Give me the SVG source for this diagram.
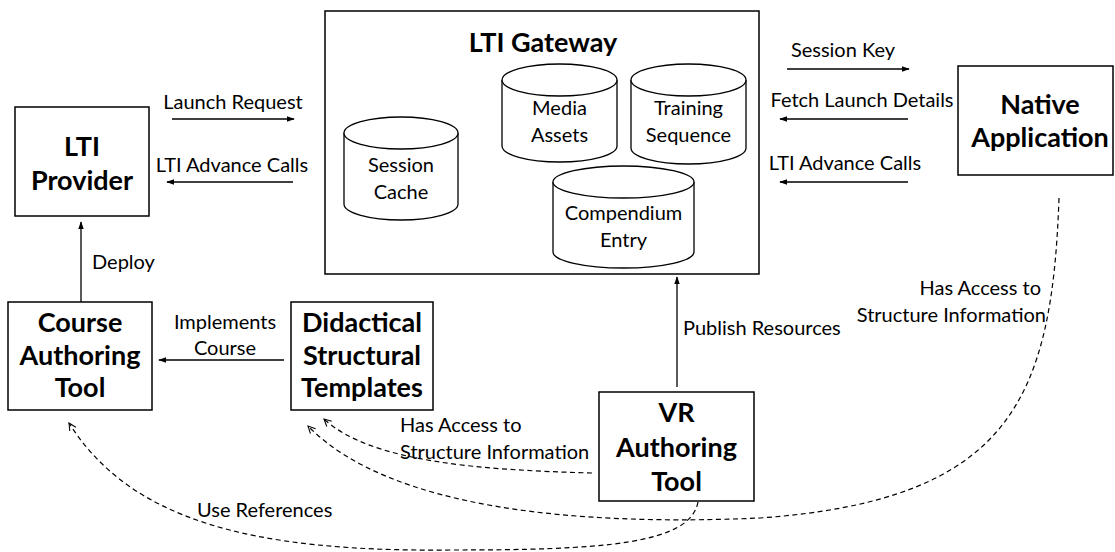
<svg xmlns="http://www.w3.org/2000/svg" width="1115" height="552" viewBox="0 0 1115 552">
<style>
.box{fill:#fff;stroke:#000;stroke-width:1.5}
.cyl{fill:#fff;stroke:#000;stroke-width:1.3}
.t{font-family:Lato,"Open Sans",sans-serif;font-size:20px;fill:#000}
.b{font-family:Lato,"Open Sans",sans-serif;font-size:27px;font-weight:bold;fill:#000;text-anchor:middle}
.m{text-anchor:middle}
.e{text-anchor:end}
.ln{fill:none;stroke:#000;stroke-width:1.3;marker-end:url(#ah)}
.dl{fill:none;stroke:#000;stroke-width:1.2;stroke-dasharray:5,3.5;marker-end:url(#oh)}
</style>
<defs>
<marker id="ah" viewBox="0 0 10 10" refX="9" refY="5" markerWidth="8" markerHeight="8" markerUnits="userSpaceOnUse" orient="auto">
<path d="M0,1.5 L10,5 L0,8.5 Z" fill="#000"/>
</marker>
<marker id="oh" viewBox="0 0 10 10" refX="9" refY="5" markerWidth="9" markerHeight="9" markerUnits="userSpaceOnUse" orient="auto">
<path d="M1,1 L9,5 L1,9" fill="none" stroke="#000" stroke-width="1.2"/>
</marker>
</defs>
<rect width="1115" height="552" fill="#fff"/>

<g id="lti-gateway">
<rect class="box" x="325" y="11" width="434" height="263"/>
<text class="b" x="543" y="52">LTI Gateway</text>
</g>
<g id="session-cache">
<path class="cyl" d="M344,133 V204 A57,16 0 0 0 458,204 V133"/>
<ellipse class="cyl" cx="401" cy="133" rx="57" ry="16"/>
<text class="t m" x="401" y="172">Session</text>
<text class="t m" x="401" y="199">Cache</text>
</g>
<g id="media-assets">
<path class="cyl" d="M502,80 V146 A57.5,16 0 0 0 617,146 V80"/>
<ellipse class="cyl" cx="559.5" cy="80" rx="57.5" ry="16"/>
<text class="t m" x="559.5" y="115">Media</text>
<text class="t m" x="559.5" y="142">Assets</text>
</g>
<g id="training-sequence">
<path class="cyl" d="M631,80 V148 A57.5,16 0 0 0 746,148 V80"/>
<ellipse class="cyl" cx="688.5" cy="80" rx="57.5" ry="16"/>
<text class="t m" x="688.5" y="115">Training</text>
<text class="t m" x="688.5" y="142">Sequence</text>
</g>
<g id="compendium-entry">
<path class="cyl" d="M553,182 V252 A70.5,16 0 0 0 694,252 V182"/>
<ellipse class="cyl" cx="623.5" cy="182" rx="70.5" ry="16"/>
<text class="t m" x="623.5" y="220">Compendium</text>
<text class="t m" x="623.5" y="247">Entry</text>
</g>

<g id="lti-provider">
<rect class="box" x="15" y="107" width="134" height="109"/>
<text class="b" x="82" y="156">LTI</text>
<text class="b" x="82" y="190">Provider</text>
</g>
<g id="native-application">
<rect class="box" x="958" y="66" width="155" height="109"/>
<text class="b" x="1040" y="114">Native</text>
<text class="b" x="1040" y="147">Application</text>
</g>
<g id="course-authoring-tool">
<rect class="box" x="8" y="302" width="144" height="108"/>
<text class="b" x="80" y="332">Course</text>
<text class="b" x="80" y="365">Authoring</text>
<text class="b" x="80" y="397">Tool</text>
</g>
<g id="didactical-structural-templates">
<rect class="box" x="291" y="302" width="142" height="108"/>
<text class="b" x="362" y="332">Didactical</text>
<text class="b" x="362" y="365">Structural</text>
<text class="b" x="362" y="397">Templates</text>
</g>
<g id="vr-authoring-tool">
<rect class="box" x="599" y="392" width="155" height="109"/>
<text class="b" x="676.5" y="422">VR</text>
<text class="b" x="676.5" y="457">Authoring</text>
<text class="b" x="676.5" y="491">Tool</text>
</g>

<g id="connectors">
<path class="ln" d="M172,119 H294"/>
<text class="t m" x="233" y="109">Launch Request</text>
<path class="ln" d="M293,182 H167"/>
<text class="t m" x="232" y="172">LTI Advance Calls</text>
<path class="ln" d="M787,69 H909"/>
<text class="t m" x="843" y="57">Session Key</text>
<path class="ln" d="M908,119 H780"/>
<text class="t m" x="862" y="107">Fetch Launch Details</text>
<path class="ln" d="M908,182 H780"/>
<text class="t m" x="845" y="170">LTI Advance Calls</text>
<path class="ln" d="M81,302 V222"/>
<text class="t" x="92" y="269">Deploy</text>
<path class="ln" d="M284,360 H159"/>
<text class="t m" x="225" y="329">Implements</text>
<text class="t m" x="225" y="355">Course</text>
<path class="ln" d="M677,387 V277"/>
<text class="t" x="683" y="335">Publish Resources</text>

<path class="dl" d="M1059,198 C1052,400 1010,500 760,518 C580,526 390,510 308,426"/>
<text class="t e" x="1041" y="295">Has Access to</text>
<text class="t e" x="1046" y="322">Structure Information</text>
<path class="dl" d="M592,473 C480,470 370,462 324,419"/>
<text class="t" x="400" y="432">Has Access to</text>
<text class="t" x="400" y="459">Structure Information</text>
<path class="dl" d="M698,502 C690,545 600,550 450,550 C250,552 130,520 69,423"/>
<text class="t" x="197" y="517">Use References</text>
</g>
</svg>
